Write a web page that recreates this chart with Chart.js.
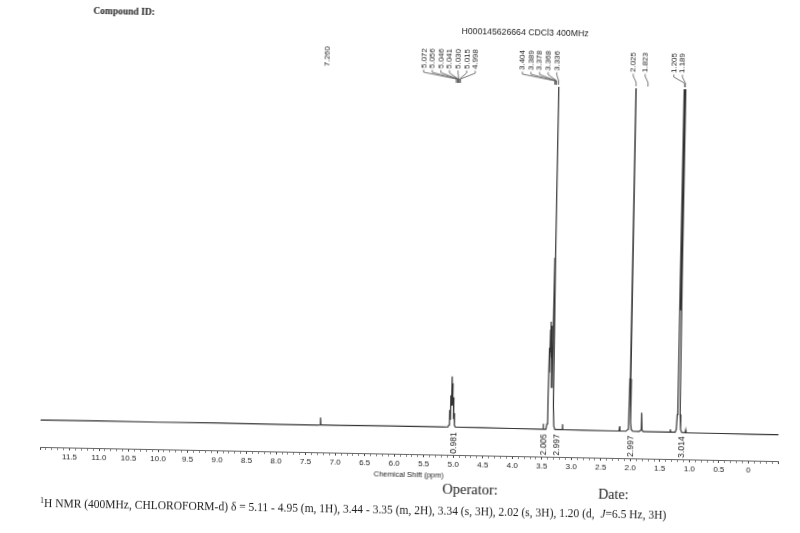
<!DOCTYPE html>
<html>
<head>
<meta charset="utf-8">
<title>1H NMR H000145626664</title>
<script src="https://cdn.jsdelivr.net/npm/chart.js@4.4.1/dist/chart.umd.min.js"></script>
<style>
    html, body { margin: 0; padding: 0; background: #fff; }
    /* the scanned sheet sits about 1 degree clockwise */
    #page {
        position: relative; width: 800px; height: 533px;
        transform: rotate(1.1deg); transform-origin: 409px 455px;
    }
    #page canvas { position: absolute; left: 0; top: 2px; }
    .txt { position: absolute; white-space: nowrap; color: #1c1c1c; }
    #cmpd { left: 85px; top: 12px; font: bold 9.5px "Liberation Serif", "Times New Roman", serif; line-height: 10px; }
    #title { left: 517px; top: 26px; transform: translateX(-50%); font: 8.7px "Liberation Sans", Arial, sans-serif; line-height: 9px; }
    #operator { left: 443px; top: 481px; font: 14.5px "Liberation Serif", "Times New Roman", serif; line-height: 14px; }
    #date { left: 599px; top: 484px; font: 14px "Liberation Serif", "Times New Roman", serif; line-height: 14px; }
    #summary { left: 41px; top: 504px; font: 11.5px "Liberation Serif", "Times New Roman", serif; line-height: 12px; }
    #summary sup { font-size: 8px; vertical-align: 4px; line-height: 0; }
</style>
</head>
<body>
<div id="page">
    <canvas id="nmrChart" width="800" height="531"></canvas>
    <div class="txt" id="cmpd">Compound ID:</div>
    <div class="txt" id="title">H000145626664 CDCl3 400MHz</div>
    <div class="txt" id="operator">Operator:</div>
    <div class="txt" id="date">Date:</div>
    <div class="txt" id="summary"><sup>1</sup>H NMR (400MHz, CHLOROFORM-d) δ = 5.11 - 4.95 (m, 1H), 3.44 - 3.35 (m, 2H), 3.34 (s, 3H), 2.02 (s, 3H), 1.20 (d, &nbsp;<i>J</i>=6.5 Hz, 3H)</div>
</div>

<script>
// ----- spectrum trace (ppm, intensity) -----
const shiftPpm = [
    12.0, 11.0, 10.0, 9.0, 8.0, 7.30,
    7.268, 7.262, 7.258, 7.252, 7.0, 6.0, 5.2,
    5.100, 5.085, 5.075, 5.069, 5.060, 5.054, 5.047, 5.042, 5.036,
    5.030, 5.023, 5.016, 5.008, 5.000, 4.992, 4.975, 4.5, 4.0,
    3.520, 3.495, 3.488, 3.482, 3.440,
    3.425, 3.413, 3.405, 3.399, 3.392, 3.388, 3.383, 3.378, 3.373, 3.368,
    3.360, 3.350, 3.343, 3.336, 3.329, 3.320, 3.308, 3.290,
    3.190, 3.165, 3.160, 3.155, 2.8, 2.3,
    2.200, 2.192, 2.186, 2.080,
    2.055, 2.042, 2.033, 2.025, 2.017, 2.008, 1.995, 1.970,
    1.860, 1.835, 1.827, 1.821, 1.812, 1.790, 1.50,
    1.340, 1.333, 1.326, 1.250,
    1.232, 1.220, 1.212, 1.205, 1.197, 1.189, 1.181, 1.172, 1.160, 1.140,
    1.080, 1.073, 1.066, 0.5, 0.0, -0.5
];
const intensity = [
    27.0, 27.3, 27.2, 27.5, 27.4, 27.3,
    27.5, 35, 35, 27.5, 27.5, 27.8, 27.9,
    28, 30, 45, 36, 60, 50, 74, 79, 62,
    72, 50, 58, 36, 42, 30, 28, 27.8, 27.7,
    27.6, 27.6, 33, 27.6, 27.6,
    33, 60, 110, 85, 128, 136, 105, 132, 100, 118,
    70, 80, 200, 520, 200, 50, 31, 27.6,
    27.5, 27.5, 33, 27.5, 27.4, 27.2,
    27.2, 32, 27.2, 27.2,
    29, 36, 80, 520, 80, 36, 29, 27.2,
    27, 28.5, 46, 46, 28.5, 27, 27,
    27, 30, 27, 27,
    30, 45, 180, 520, 150, 520, 180, 45, 30, 27,
    26.9, 29.5, 26.9, 26.7, 26.6, 26.5
];

// ----- peak picking labels (grouped the way they are printed) -----
const peakGroups = [
    [7.260],
    [5.072, 5.056, 5.046, 5.041, 5.030, 5.015, 4.998],
    [3.404, 3.389, 3.378, 3.368, 3.336],
    [2.025],
    [1.823],
    [1.205, 1.189]
];

// ----- integrals printed under the baseline -----
const integralPpm = [5.00, 3.47, 3.25, 2.00, 1.135];
const integralValues = ["0.981", "2.005", "2.997", "2.997", "3.014"];

// axis range (ppm, reversed)
const PPM_MIN = -0.5;
const PPM_MAX = 12.0;

const LABEL_GAP = 8.6;                       // px between stacked peak labels
const groupShift = [0, -9, -17, -3, -3, -7]; // how far each label block sits off its peaks
const drawLeader = [false, true, true, true, true, true];
const FONT_SANS = '"Liberation Sans", Arial, sans-serif';

function isHalf(v) {
    return Math.abs(v * 2 - Math.round(v * 2)) < 1e-6;
}

// draws peak labels with leader lines, plus the integral values
const annotatePlugin = {
    id: "nmrAnnotations",
    afterDraw(chart) {
        const ctx = chart.ctx;
        const xs = chart.scales.x;
        ctx.save();

        ctx.font = "8px " + FONT_SANS;
        ctx.fillStyle = "#1e1e1e";
        ctx.strokeStyle = "#555";
        ctx.lineWidth = 0.8;
        peakGroups.forEach(function (group, g) {
            const px = group.map(p => xs.getPixelForValue(p));
            const mid = px.reduce((a, b) => a + b, 0) / px.length + groupShift[g];
            group.forEach(function (p, i) {
                const lx = mid + (i - (group.length - 1) / 2) * LABEL_GAP;
                ctx.save();
                ctx.translate(lx, 66);
                ctx.rotate(-Math.PI / 2);
                ctx.textAlign = "left";
                ctx.textBaseline = "middle";
                ctx.fillText(p.toFixed(3), 0, 0);
                ctx.restore();

                if (!drawLeader[g]) return;
                ctx.beginPath();
                ctx.moveTo(lx, 67.5);
                ctx.lineTo(lx, 70);
                ctx.lineTo(px[i], 76);
                ctx.lineTo(px[i], 80);
                ctx.stroke();
            });
        });

        ctx.font = "8.5px " + FONT_SANS;
        ctx.fillStyle = "#1e1e1e";
        integralPpm.forEach(function (p, i) {
            ctx.save();
            ctx.translate(xs.getPixelForValue(p), 440);
            ctx.rotate(-Math.PI / 2);
            ctx.textAlign = "center";
            ctx.textBaseline = "middle";
            ctx.fillText(integralValues[i], 0, 0);
            ctx.restore();
        });

        ctx.restore();
    }
};

new Chart(document.getElementById("nmrChart"), {
    type: "line",
    data: {
        datasets: [{
            data: shiftPpm.map((p, i) => ({ x: p, y: intensity[i] })),
            borderColor: "#333",
            borderWidth: 1.2,
            pointRadius: 0,
            tension: 0,
            fill: false
        }]
    },
    options: {
        responsive: false,
        devicePixelRatio: 1,
        animation: false,
        events: [],
        layout: { padding: { left: 40, right: 22, top: 82, bottom: 54.5 } },
        plugins: { legend: { display: false }, tooltip: { enabled: false } },
        scales: {
            x: {
                type: "linear",
                reverse: true,
                min: PPM_MIN,
                max: PPM_MAX,
                border: { display: true, color: "#666", width: 1 },
                grid: {
                    drawOnChartArea: false,
                    drawTicks: true,
                    tickLength: 3,
                    tickColor: c => isHalf(c.tick.value) ? "#444" : "#888"
                },
                ticks: {
                    stepSize: 0.1,
                    autoSkip: false,
                    maxRotation: 0,
                    minRotation: 0,
                    padding: 3,
                    color: "#222",
                    font: { family: FONT_SANS, size: 8, lineHeight: 1 },
                    callback: function (v) {
                        if (!isHalf(v) || v < -1e-6 || v > 11.5 + 1e-6) return "";
                        return Math.abs(v) < 1e-6 ? "0" : v.toFixed(1);
                    }
                },
                title: {
                    display: true,
                    text: "Chemical Shift (ppm)",
                    color: "#222",
                    font: { family: FONT_SANS, size: 7.5, lineHeight: 1 },
                    padding: { top: 0, bottom: 0 }
                }
            },
            y: {
                display: false,
                min: 0,
                max: 373
            }
        }
    },
    plugins: [annotatePlugin]
});
</script>
</body>
</html>
